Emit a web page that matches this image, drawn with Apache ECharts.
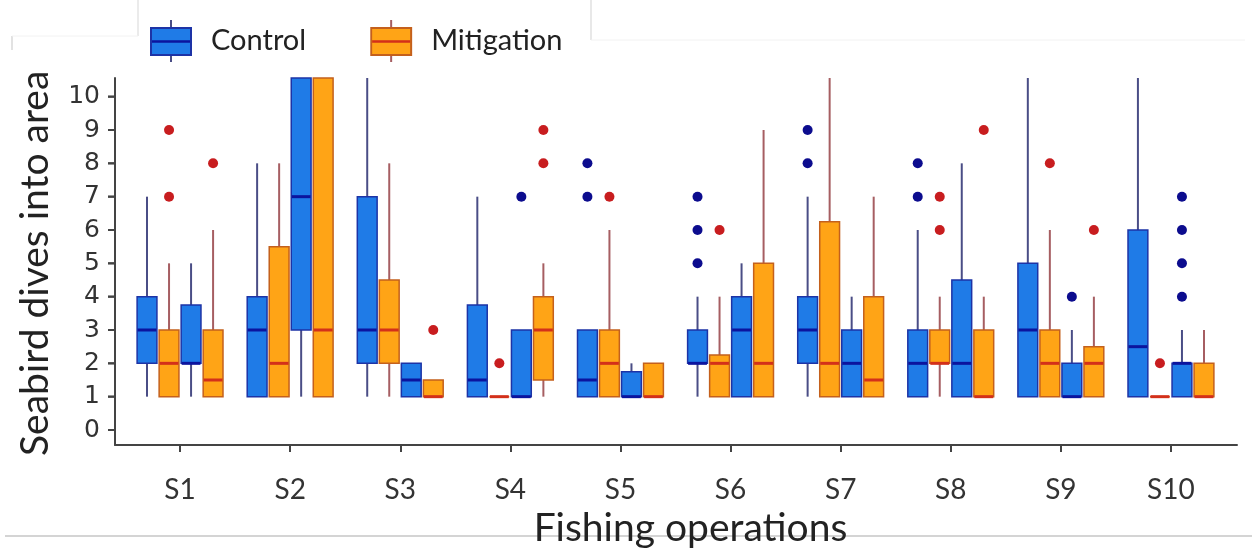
<!DOCTYPE html>
<html>
<head>
<meta charset="utf-8">
<script src="https://cdn.jsdelivr.net/npm/echarts@6/dist/echarts.min.js"></script>
<style>
  html, body { margin: 0; padding: 0; background: #ffffff; }
  #chart { width: 1252px; height: 552px; }
</style>
</head>
<body>
<div id="chart"></div>
<script>
// ---------------- data ----------------
const categories = ['S1', 'S2', 'S3', 'S4', 'S5', 'S6', 'S7', 'S8', 'S9', 'S10'];
const yTickValues = [0, 1, 2, 3, 4, 5, 6, 7, 8, 9, 10];

// box statistics per category: [min, Q1, median, Q3, max]
const controlA = [
  [1, 2, 3, 4, 7], [1, 1, 3, 4, 8], [1, 2, 3, 7, 11], [1, 1, 1.5, 3.75, 7], [1, 1, 1.5, 3, 3],
  [1, 2, 2, 3, 4], [1, 2, 3, 4, 7], [1, 1, 2, 3, 6], [1, 1, 3, 5, 11], [1, 1, 2.5, 6, 11]
];
const mitigationA = [
  [1, 1, 2, 3, 5], [1, 1, 2, 5.5, 8], [1, 2, 3, 4.5, 8], [1, 1, 1, 1, 1], [1, 1, 2, 3, 6],
  [1, 1, 2, 2.25, 4], [1, 1, 2, 6.25, 11], [1, 2, 2, 3, 4], [1, 1, 2, 3, 6], [1, 1, 1, 1, 1]
];
const controlB = [
  [1, 2, 2, 3.75, 5], [1, 3, 7, 11, 12], [1, 1, 1.5, 2, 2], [1, 1, 1, 3, 3], [1, 1, 1, 1.75, 2],
  [1, 1, 3, 4, 5], [1, 1, 2, 3, 4], [1, 1, 2, 4.5, 8], [1, 1, 1, 2, 3], [1, 1, 2, 2, 3]
];
const mitigationB = [
  [1, 1, 1.5, 3, 6], [1, 1, 3, 11, 12], [1, 1, 1, 1.5, 1.5], [1, 1.5, 3, 4, 5], [1, 1, 1, 2, 2],
  [1, 1, 2, 5, 9], [1, 1, 1.5, 4, 7], [1, 1, 1, 3, 4], [1, 1, 2, 2.5, 4], [1, 1, 1, 2, 3]
];

// outliers per category
const outControlA = [[], [], [], [], [7, 8], [5, 6, 7], [8, 9], [7, 8], [], []];
const outMitigationA = [[7, 9], [], [], [2], [7], [6], [], [6, 7], [8], [2]];
const outControlB = [[], [], [], [7], [], [], [], [], [4], [4, 5, 6, 7]];
const outMitigationB = [[8], [], [3], [8, 9], [], [], [], [9], [6], []];

// ---------------- styles ----------------
const SLOT_OFFSETS = [-0.3, -0.1, 0.1, 0.3];   // fraction of band width
const BOX_WIDTH = 0.18;                          // fraction of band width
const CONTROL_STYLE = { fill: '#1f7be7', border: '#1d33a6', median: '#0b149e', whisker: '#4a4d86', dot: '#0c0c8e' };
const MITIGATION_STYLE = { fill: '#ffa416', border: '#c4601c', median: '#d3301a', whisker: '#a65e62', dot: '#c81d1f' };
const FONT = 'Lato, "Liberation Sans", sans-serif';
const AXIS_COLOR = '#444';
const TICK_LEN = 7;
const AXIS_GAP = 10;

function boxRenderer(slot, st) {
  return function (params, api) {
    const cat = api.value(0);
    const band = api.size([1, 0])[0];
    const cx = api.coord([cat, 0])[0] + SLOT_OFFSETS[slot] * band;
    const w = BOX_WIDTH * band;
    const cs = params.coordSys;
    const top = cs.y, bottom = cs.y + cs.height;
    const Y = v => Math.max(top, Math.min(bottom, api.coord([cat, v])[1]));
    const yMin = Y(api.value(1)), yQ1 = Y(api.value(2)), yMed = Y(api.value(3)),
          yQ3 = Y(api.value(4)), yMax = Y(api.value(5));
    const children = [];
    if (yMax < yQ3 - 0.5) {
      children.push({ type: 'line', shape: { x1: cx, y1: yMax, x2: cx, y2: yQ3 },
        style: { stroke: st.whisker, lineWidth: 2 } });
    }
    if (yMin > yQ1 + 0.5) {
      children.push({ type: 'line', shape: { x1: cx, y1: yQ1, x2: cx, y2: yMin },
        style: { stroke: st.whisker, lineWidth: 2 } });
    }
    children.push({ type: 'rect', shape: { x: cx - w / 2, y: yQ3, width: w, height: yQ1 - yQ3 },
      style: { fill: st.fill, stroke: st.border, lineWidth: 1.5 } });
    children.push({ type: 'line', shape: { x1: cx - w / 2 + 0.5, y1: yMed, x2: cx + w / 2 - 0.5, y2: yMed },
      style: { stroke: st.median, lineWidth: 3 } });
    return { type: 'group', children: children };
  };
}

function dotRenderer(slot, st) {
  return function (params, api) {
    const cat = api.value(0);
    const band = api.size([1, 0])[0];
    const p = api.coord([cat, api.value(1)]);
    return { type: 'circle', shape: { cx: p[0] + SLOT_OFFSETS[slot] * band, cy: p[1], r: 5 },
      style: { fill: st.dot } };
  };
}

// y tick marks drawn as one custom element group through the data y scale
function ticksRenderer(params, api) {
  const x0 = params.coordSys.x - AXIS_GAP;
  const y = api.coord([api.value(0), api.value(1)])[1];
  return { type: 'rect', shape: { x: x0 - TICK_LEN, y: y - 1, width: TICK_LEN, height: 2 },
    style: { fill: AXIS_COLOR } };
}

function boxData(arr) { return arr.map((s, i) => [i].concat(s)); }
function dotData(arr) {
  const out = [];
  arr.forEach((vals, i) => vals.forEach(v => out.push([i, v])));
  return out;
}

function iconSvg(st) {
  const svg = '<svg xmlns="http://www.w3.org/2000/svg" width="56" height="44" viewBox="0 0 56 44">' +
    '<line x1="21" y1="1" x2="21" y2="43" stroke="' + st.whisker + '" stroke-width="2"/>' +
    '<rect x="1" y="9" width="40" height="27" fill="' + st.fill + '" stroke="' + st.border + '" stroke-width="2"/>' +
    '<line x1="2" y1="22.5" x2="40" y2="22.5" stroke="' + st.median + '" stroke-width="2.5"/>' +
    '</svg>';
  return 'image://data:image/svg+xml;charset=utf-8,' + encodeURIComponent(svg);
}

const groups = [
  { name: 'Control', data: controlA, out: outControlA, st: CONTROL_STYLE },
  { name: 'Mitigation', data: mitigationA, out: outMitigationA, st: MITIGATION_STYLE },
  { name: 'Control', data: controlB, out: outControlB, st: CONTROL_STYLE },
  { name: 'Mitigation', data: mitigationB, out: outMitigationB, st: MITIGATION_STYLE }
];

const series = [];
groups.forEach((g, slot) => {
  series.push({
    type: 'custom', name: g.name, xAxisIndex: 0, yAxisIndex: 0, clip: false,
    renderItem: boxRenderer(slot, g.st),
    encode: { x: 0, y: [1, 2, 3, 4, 5] },
    data: boxData(g.data), z: 2
  });
});
groups.forEach((g, slot) => {
  series.push({
    type: 'custom', name: g.name, xAxisIndex: 0, yAxisIndex: 0, clip: false,
    renderItem: dotRenderer(slot, g.st),
    encode: { x: 0, y: 1 },
    data: dotData(g.out), z: 3
  });
});
series.push({
  type: 'custom', name: 'Control', xAxisIndex: 0, yAxisIndex: 0, clip: false, silent: true,
  renderItem: ticksRenderer,
  encode: { x: 0, y: 1 },
  data: yTickValues.map(v => [0, v]), z: 10
});

const frameGraphics = [
  { type: 'line', shape: { x1: 5, y1: 536, x2: 1252, y2: 536 }, style: { stroke: '#d4d4d4', lineWidth: 2 }, silent: true },
  { type: 'line', shape: { x1: 138, y1: 0, x2: 138, y2: 36 }, style: { stroke: '#e4e4e4', lineWidth: 1.5 }, silent: true },
  { type: 'line', shape: { x1: 591, y1: 0, x2: 591, y2: 40 }, style: { stroke: '#e0e0e0', lineWidth: 1.5 }, silent: true },
  { type: 'line', shape: { x1: 12, y1: 36, x2: 12, y2: 50 }, style: { stroke: '#d8d8d8', lineWidth: 1.5 }, silent: true },
  { type: 'line', shape: { x1: 12, y1: 36, x2: 138, y2: 36 }, style: { stroke: '#f2f2f2', lineWidth: 1 }, silent: true },
  { type: 'line', shape: { x1: 591, y1: 40, x2: 1245, y2: 40 }, style: { stroke: '#f2f2f2', lineWidth: 1 }, silent: true }
];

const chart = echarts.init(document.getElementById('chart'));
chart.setOption({
  animation: false,
  backgroundColor: '#ffffff',
  legend: {
    left: 150, top: 19, padding: 0,
    itemWidth: 56, itemHeight: 44, itemGap: 64,
    data: [
      { name: 'Control', icon: iconSvg(CONTROL_STYLE) },
      { name: 'Mitigation', icon: iconSvg(MITIGATION_STYLE) }
    ],
    textStyle: { fontFamily: FONT, fontSize: 29, color: '#222', padding: [4, 0, 0, 0] }
  },
  grid: [
    { left: 125, right: 26, top: 78, bottom: 107, outerBoundsMode: 'none' },        // data
    { left: 115, right: 15, top: 78, bottom: 107, outerBoundsMode: 'none' },        // axis frame lines
    { left: 108, right: 26, top: 96.67, bottom: 122, outerBoundsMode: 'none' }      // y labels 0..10
  ],
  xAxis: [
    {
      type: 'category', gridIndex: 0, data: categories, boundaryGap: true,
      axisLine: { show: false, onZero: false },
      axisTick: { show: true, alignWithLabel: true, length: 7, lineStyle: { color: AXIS_COLOR, width: 2 } },
      axisLabel: { fontFamily: FONT, fontSize: 28, color: '#333', margin: 31 },
      name: 'Fishing operations', nameLocation: 'middle', nameGap: 62,
      nameTextStyle: { fontFamily: FONT, fontSize: 39, color: '#222', padding: [0, 0, 0, 30] },
      splitLine: { show: false }
    },
    {
      type: 'value', gridIndex: 1, min: 0, max: 1,
      axisLine: { show: true, onZero: false, lineStyle: { color: AXIS_COLOR, width: 2 } },
      axisTick: { show: false }, axisLabel: { show: false }, splitLine: { show: false }
    },
    { type: 'value', gridIndex: 2, show: false, min: 0, max: 1 }
  ],
  yAxis: [
    { type: 'value', gridIndex: 0, min: -0.45, max: 10.56, show: false },
    {
      type: 'value', gridIndex: 1, min: 0, max: 1,
      axisLine: { show: true, onZero: false, lineStyle: { color: AXIS_COLOR, width: 2 } },
      axisTick: { show: false }, axisLabel: { show: false }, splitLine: { show: false }
    },
    {
      type: 'value', gridIndex: 2, min: yTickValues[0], max: yTickValues[yTickValues.length - 1], interval: 1,
      axisLine: { show: false, onZero: false },
      axisTick: { show: false },
      axisLabel: { fontFamily: '"DejaVu Sans", sans-serif', fontSize: 25, color: '#333', margin: 8 },
      splitLine: { show: false },
      name: 'Seabird dives into area', nameLocation: 'middle', nameGap: 53, nameRotate: 90,
      nameTextStyle: { fontFamily: FONT, fontSize: 39, color: '#222' }
    }
  ],
  graphic: frameGraphics,
  series: series
});

// extra safety: tick marks also as graphics, positioned through the chart's scales
try {
  const tickGraphics = [];
  yTickValues.forEach(v => {
    const p = chart.convertToPixel({ gridIndex: 0 }, [0, v]);
    const ax = chart.convertToPixel({ gridIndex: 1 }, [0, 0]);
    if (p && ax && isFinite(p[1]) && isFinite(ax[0])) {
      tickGraphics.push({ type: 'rect', shape: { x: ax[0] - TICK_LEN, y: p[1] - 1, width: TICK_LEN, height: 2 },
        style: { fill: AXIS_COLOR }, silent: true, z: 100 });
    }
  });
  chart.setOption({ graphic: frameGraphics.concat(tickGraphics) });
} catch (e) { /* ignore */ }
</script>
</body>
</html>
